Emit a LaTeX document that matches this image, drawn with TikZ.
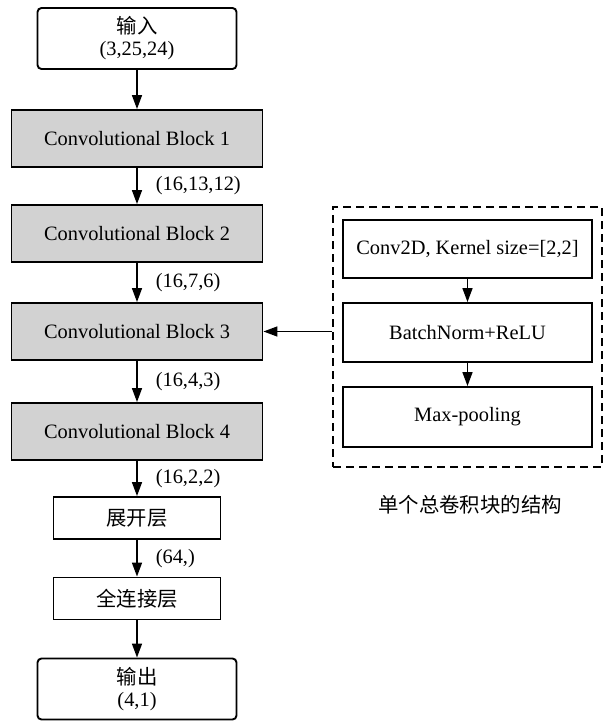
\documentclass[tikz,border=0pt]{standalone}
\usepackage{fontspec}
\setmainfont{Liberation Serif}
\newfontfamily\cjk{Noto Sans CJK SC}
\usetikzlibrary{arrows.meta}
\begin{document}
\begin{tikzpicture}[x=1pt,y=-1pt,
  txt/.style={font=\fontsize{20.4}{22}\selectfont},
  box/.style={draw, line width=1.9pt, inner sep=0pt, txt, align=center},
  conv/.style={box, fill=gray!35, minimum width=251pt, minimum height=57pt},
  endbox/.style={box, rounded corners=4pt, minimum width=199pt, minimum height=61pt},
  smallbox/.style={box, minimum width=167pt, minimum height=42pt},
  subbox/.style={box, minimum width=249pt, minimum height=59pt},
  arr/.style={line width=1.6pt, -{Triangle[length=14pt,width=10pt]}},
  lbl/.style={txt, anchor=west, inner sep=0pt, xshift=18pt}
]
\useasboundingbox (0,0) rectangle (604,721);
\node[endbox] (in) at (137,38.5) {{\cjk 输入}\\(3,25,24)};
\node[conv] (b1) at (137,138.5) {Convolutional Block 1};
\node[conv] (b2) at (137,233.5) {Convolutional Block 2};
\node[conv] (b3) at (137,331.5) {Convolutional Block 3};
\node[conv] (b4) at (137,431.5) {Convolutional Block 4};
\node[smallbox] (fl) at (137,518) {\cjk 展开层};
\node[smallbox] (fc) at (137,598.5) {\cjk 全连接层};
\node[endbox] (out) at (137,689) {{\cjk 输出}\\(4,1)};

\draw[arr] (in) -- (b1);
\draw[arr] (b1) -- node[lbl] {(16,13,12)} (b2);
\draw[arr] (b2) -- node[lbl] {(16,7,6)} (b3);
\draw[arr] (b3) -- node[lbl] {(16,4,3)} (b4);
\draw[arr] (b4) -- node[lbl] {(16,2,2)} (fl);
\draw[arr] (fl) -- node[lbl] {(64,)} (fc);
\draw[arr] (fc) -- (out);

\node[draw, line width=1.8pt, dash pattern=on 8pt off 5pt, minimum width=269pt, minimum height=260pt, inner sep=0pt] (grp) at (467.5,337) {};
\node[subbox, minimum height=58pt] (s1) at (467.5,249) {Conv2D, Kernel size=[2,2]};
\node[subbox] (s2) at (467.5,332.5) {BatchNorm+ReLU};
\node[subbox, minimum height=60pt] (s3) at (467.5,417) {Max-pooling};
\draw[arr] (s1) -- (s2);
\draw[arr] (s2) -- (s3);
\draw[arr] (grp.west |- b3) -- (b3.east);

\node[txt, inner sep=0pt] (cap) at (470,505) {\cjk 单个总卷积块的结构};
\end{tikzpicture}
\end{document}
